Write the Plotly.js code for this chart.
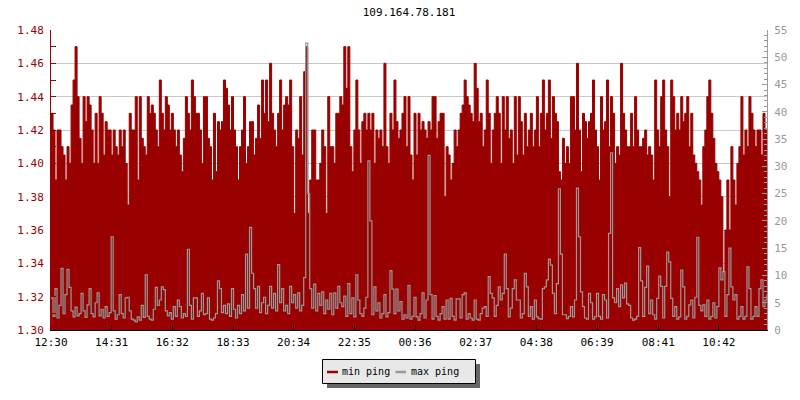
<!DOCTYPE html>
<html>
<head>
<meta charset="utf-8">
<script src="https://cdn.plot.ly/plotly-3.0.1.min.js"></script>
<style>html,body{margin:0;padding:0;background:#fff;}#chart{width:800px;height:400px;}</style>
</head>
<body>
<div id="chart"></div>
<script>
// ---- data (4-minute samples starting 12:30) ----
const chartTitle = '109.164.78.181';
const seriesNames = ['min ping', 'max ping'];
const startTime = '12:30';
const stepMinutes = 4;
const tickLabels = ['12:30','14:31','16:32','18:33','20:34','22:35','00:36','02:37','04:38','06:39','08:41','10:42'];

const minPing = [
1.43,1.42,1.39,1.42,1.42,1.41,1.405,1.39,1.41,1.40,
1.435,1.45,1.47,1.44,1.415,1.40,1.44,1.425,1.44,1.435,
1.42,1.40,1.43,1.40,1.44,1.43,1.405,1.425,1.42,1.42,
1.405,1.42,1.41,1.405,1.42,1.41,1.42,1.40,1.375,1.43,
1.42,1.42,1.44,1.39,1.44,1.415,1.41,1.405,1.44,1.43,
1.435,1.43,1.42,1.41,1.45,1.43,1.42,1.44,1.435,1.42,
1.43,1.42,1.41,1.42,1.405,1.395,1.415,1.44,1.43,1.42,
1.45,1.44,
1.43,1.43,1.42,1.40,1.44,1.44,1.415,1.41,1.39,1.43,
1.395,1.425,1.42,1.425,1.45,1.445,1.435,1.42,1.44,1.42,
1.41,1.39,1.41,1.42,1.44,1.40,1.41,1.425,1.425,1.405,
1.415,1.435,1.415,1.45,1.43,1.45,1.425,1.46,1.43,1.42,
1.41,1.43,1.45,1.42,1.435,1.44,1.435,1.45,1.41,1.37,
1.42,1.415,1.44,1.405,1.455,1.47,1.37,1.39,1.42,1.42,
1.39,1.39,1.40,1.42,1.41,1.37,1.44,1.41,1.41,1.40,
1.43,1.43,
1.44,1.435,1.47,1.445,1.47,1.41,1.395,1.42,1.45,1.42,
1.40,1.425,1.43,1.42,1.43,1.42,1.43,1.40,1.42,1.415,
1.42,1.41,1.46,1.41,1.40,1.43,1.42,1.45,1.425,1.415,
1.42,1.43,1.44,1.41,1.44,1.405,1.39,1.43,1.405,1.43,
1.42,1.425,1.42,1.415,1.425,1.42,1.44,1.44,1.415,1.425,
1.43,1.43,1.38,1.41,1.405,1.39,1.40,1.42,1.41,1.42,
1.43,1.435,1.45,1.44,1.435,1.43,1.425,1.46,1.445,1.425,
1.43,1.41,
1.42,1.45,1.43,1.40,1.42,1.43,1.44,1.43,1.40,1.44,
1.42,1.44,1.415,1.42,1.40,1.44,1.405,1.44,1.425,1.405,
1.43,1.41,1.42,1.43,1.41,1.42,1.44,1.41,1.43,1.45,
1.42,1.43,1.45,1.415,1.44,1.43,1.425,1.395,1.39,1.415,
1.40,1.41,1.40,1.44,1.44,1.42,1.46,1.42,1.395,1.43,
1.425,1.415,1.425,1.43,1.45,1.42,1.41,1.39,1.44,1.42,
1.425,1.45,1.41,1.44,1.43,1.40,1.41,1.405,1.46,1.43,
1.42,1.41,
1.41,1.43,1.41,1.44,1.42,1.41,1.41,1.415,1.42,1.405,
1.41,1.405,1.39,1.45,1.42,1.41,1.44,1.45,1.42,1.41,
1.38,1.45,1.44,1.42,1.43,1.42,1.44,1.425,1.43,1.44,
1.41,1.43,1.405,1.40,1.395,1.39,1.375,1.41,1.42,1.44,
1.45,1.43,1.415,1.40,1.395,1.39,1.38,1.335,1.36,1.39,
1.36,1.41,1.39,1.375,1.40,1.41,1.44,1.405,1.42,1.41,
1.44,1.43,1.42,1.41,1.42,1.42,1.405,1.43,1.42,1.42
];

const maxPing = [
5.9,2.5,7.6,2.2,4.5,11.3,3.0,6.5,11.1,7.8,
3.5,2.4,4.2,2.6,3.0,6.7,3.5,2.3,4.6,7.6,
3.0,2.4,5.0,6.8,2.6,3.8,2.2,4.3,2.5,3.2,
17.1,3.5,2.0,2.8,6.5,3.0,2.2,5.9,6.0,3.5,
2.0,1.8,1.5,2.4,1.8,4.5,2.3,10.1,2.5,2.0,
1.8,3.8,7.8,4.5,5.5,7.9,7.4,3.5,2.6,3.2,
2.0,4.3,2.5,5.5,4.3,2.2,3.0,2.5,14.8,4.5,
2.0,5.9,
5.9,2.5,3.5,6.7,2.8,3.0,5.9,2.0,1.8,2.2,
3.0,9.0,7.6,3.2,4.5,3.0,4.8,2.5,7.6,3.8,
2.2,4.5,3.0,6.5,3.5,13.9,4.0,18.8,10.4,7.6,
4.0,8.0,3.2,5.0,6.0,3.0,4.5,8.0,4.0,6.7,
3.5,12.0,5.0,7.6,3.5,4.5,3.0,8.0,5.0,6.5,
4.0,6.8,3.5,4.5,9.6,52.6,25.0,7.6,4.0,8.4,
3.5,6.7,4.5,7.0,3.0,5.5,3.8,6.7,2.8,6.8,
4.0,8.0,
5.0,4.3,6.2,2.5,8.5,3.0,5.9,2.4,10.1,5.5,
3.0,2.5,4.0,6.0,31.0,20.0,2.8,7.9,3.5,5.0,
2.2,3.0,6.5,2.4,3.2,10.9,7.5,3.0,7.5,3.5,
5.2,2.0,2.8,2.2,8.2,2.0,2.5,6.0,2.4,1.8,
3.0,6.8,2.2,5.5,32.0,6.5,2.0,6.3,2.5,1.8,
3.0,4.3,2.0,5.5,2.0,5.8,2.5,1.8,5.7,5.7,
2.2,6.5,6.8,2.0,3.0,2.2,1.8,5.5,2.0,1.8,
3.0,4.0,
4.3,2.5,9.8,6.7,5.9,2.5,4.5,7.9,5.5,6.7,
13.9,7.6,2.4,4.0,7.6,9.2,5.5,5.5,2.2,3.0,
10.4,7.9,2.5,4.3,2.0,5.5,2.4,2.1,2.0,7.6,
7.9,9.2,13.0,11.9,6.7,3.0,8.5,25.9,13.9,2.8,
2.8,2.1,2.5,4.3,2.4,5.5,26.0,17.1,7.0,4.3,
2.2,2.0,6.7,5.0,2.0,2.4,6.7,2.5,2.0,6.5,
5.5,2.2,17.7,32.5,5.9,5.0,7.6,4.3,8.3,5.9,
8.6,4.8,
4.5,2.2,1.8,2.0,2.5,15.1,9.0,2.5,7.8,11.7,
3.0,5.5,2.8,2.0,5.8,9.9,8.0,2.2,8.0,14.3,
12.5,5.8,2.5,4.3,2.0,2.4,11.0,7.9,2.0,2.5,
4.6,5.5,2.2,6.0,17.0,4.5,3.5,4.6,2.5,5.5,
2.0,2.5,5.0,2.2,4.3,11.4,9.2,10.7,2.5,6.5,
15.0,7.9,5.5,6.5,2.0,2.5,4.3,2.0,2.5,11.6,
7.6,2.0,2.5,4.3,2.5,7.6,9.2,4.3,5.5,6.5
];

// ---- helpers ----
function pad(n){ return (n < 10 ? '0' : '') + n; }
const [sh, sm] = startTime.split(':').map(Number);
function toDate(offsetMin){
  const total = sh*60 + sm + offsetMin;
  const day = 1 + Math.floor(total / 1440);
  const rem = total % 1440;
  return '2024-01-' + pad(day) + ' ' + pad(Math.floor(rem/60)) + ':' + pad(rem % 60);
}
const times = minPing.map((_, i) => toDate(i * stepMinutes));
const tickVals = tickLabels.map(t => {
  const [h, m] = t.split(':').map(Number);
  return (h*60 + m >= sh*60 + sm ? '2024-01-01 ' : '2024-01-02 ') + t;
});

const RED = '#990000', GREY = '#999999';
const FONT = 'DejaVu Sans Mono, monospace';

// plot area in pixels: left 51, right 767, top 30, bottom 330
const L = 51, W = 716, T = 30, H = 300;
const px = x => (x - L) / W;
const py = y => (T + H - y) / H;

const traces = [
  { x: times, y: minPing, name: seriesNames[0], type: 'scatter', mode: 'lines',
    line: { color: RED, width: 1, shape: 'hv' }, fill: 'tozeroy', fillcolor: RED,
    yaxis: 'y', hoverinfo: 'skip' },
  { x: times, y: maxPing, name: seriesNames[1], type: 'scatter', mode: 'lines',
    line: { color: GREY, width: 1.2, shape: 'hv' }, yaxis: 'y2', hoverinfo: 'skip' }
];

const layout = {
  width: 800, height: 400,
  margin: { l: L, r: 800 - L - W, t: T, b: 400 - T - H, pad: 0 },
  paper_bgcolor: '#ffffff', plot_bgcolor: '#ffffff',
  font: { family: FONT, size: 10, color: '#000' },
  showlegend: false,
  title: { text: chartTitle, font: { family: FONT, size: 11, color: '#000' },
           x: 0.5, xref: 'paper', y: 1 - 12/400, yref: 'container', yanchor: 'middle' },
  xaxis: {
    type: 'date', range: [times[0], times[times.length - 1]],
    tickvals: tickVals, ticktext: tickLabels,
    showgrid: false, zeroline: false, showline: true, linecolor: '#000', linewidth: 1,
    ticks: 'inside', ticklen: 5, tickcolor: '#000', tickwidth: 1,
    tickfont: { family: FONT, size: 11, color: '#000' }, ticklabelstandoff: 2
  },
  yaxis: {
    range: [1.30, 1.48], tick0: 1.30, dtick: 0.02, tickformat: '.2f',
    showgrid: true, gridcolor: '#c8c8c8', gridwidth: 1, zeroline: false,
    showline: true, linecolor: RED, linewidth: 1,
    ticks: 'inside', ticklen: 5, tickcolor: RED,
    minor: { dtick: 0.01, ticks: 'inside', ticklen: 5, tickcolor: RED, showgrid: false },
    tickfont: { family: FONT, size: 11, color: RED }, ticklabelstandoff: 4
  },
  yaxis2: {
    overlaying: 'y', side: 'right', range: [0, 55], tick0: 0, dtick: 5,
    showgrid: false, zeroline: false, showline: true, linecolor: GREY, linewidth: 1,
    ticks: 'inside', ticklen: 5, tickcolor: GREY,
    minor: { dtick: 1, ticks: 'inside', ticklen: 3, tickcolor: GREY, showgrid: false },
    tickfont: { family: FONT, size: 11, color: GREY }, ticklabelstandoff: 4
  },
  shapes: [
    { type: 'rect', xref: 'paper', yref: 'paper', x0: px(327), x1: px(480), y0: py(388), y1: py(364),
      fillcolor: '#666666', line: { width: 0 }, layer: 'above' },
    { type: 'rect', xref: 'paper', yref: 'paper', x0: px(322.5), x1: px(475.5), y0: py(383.5), y1: py(359.5),
      fillcolor: '#e8e8e8', line: { color: '#000', width: 1 }, layer: 'above' },
    { type: 'line', xref: 'paper', yref: 'paper', x0: px(327), x1: px(338), y0: py(372), y1: py(372),
      line: { color: RED, width: 2.5 }, layer: 'above' },
    { type: 'line', xref: 'paper', yref: 'paper', x0: px(395.5), x1: px(406), y0: py(372), y1: py(372),
      line: { color: GREY, width: 2.5 }, layer: 'above' }
  ],
  annotations: [
    { text: seriesNames[0], xref: 'paper', yref: 'paper', x: px(341), y: py(371.5),
      xanchor: 'left', yanchor: 'middle', showarrow: false, borderpad: 0,
      font: { family: FONT, size: 10, color: '#000' } },
    { text: seriesNames[1], xref: 'paper', yref: 'paper', x: px(409.5), y: py(371.5),
      xanchor: 'left', yanchor: 'middle', showarrow: false, borderpad: 0,
      font: { family: FONT, size: 10, color: '#000' } }
  ]
};

Plotly.newPlot('chart', traces, layout, { staticPlot: true, displayModeBar: false });
</script>
</body>
</html>
